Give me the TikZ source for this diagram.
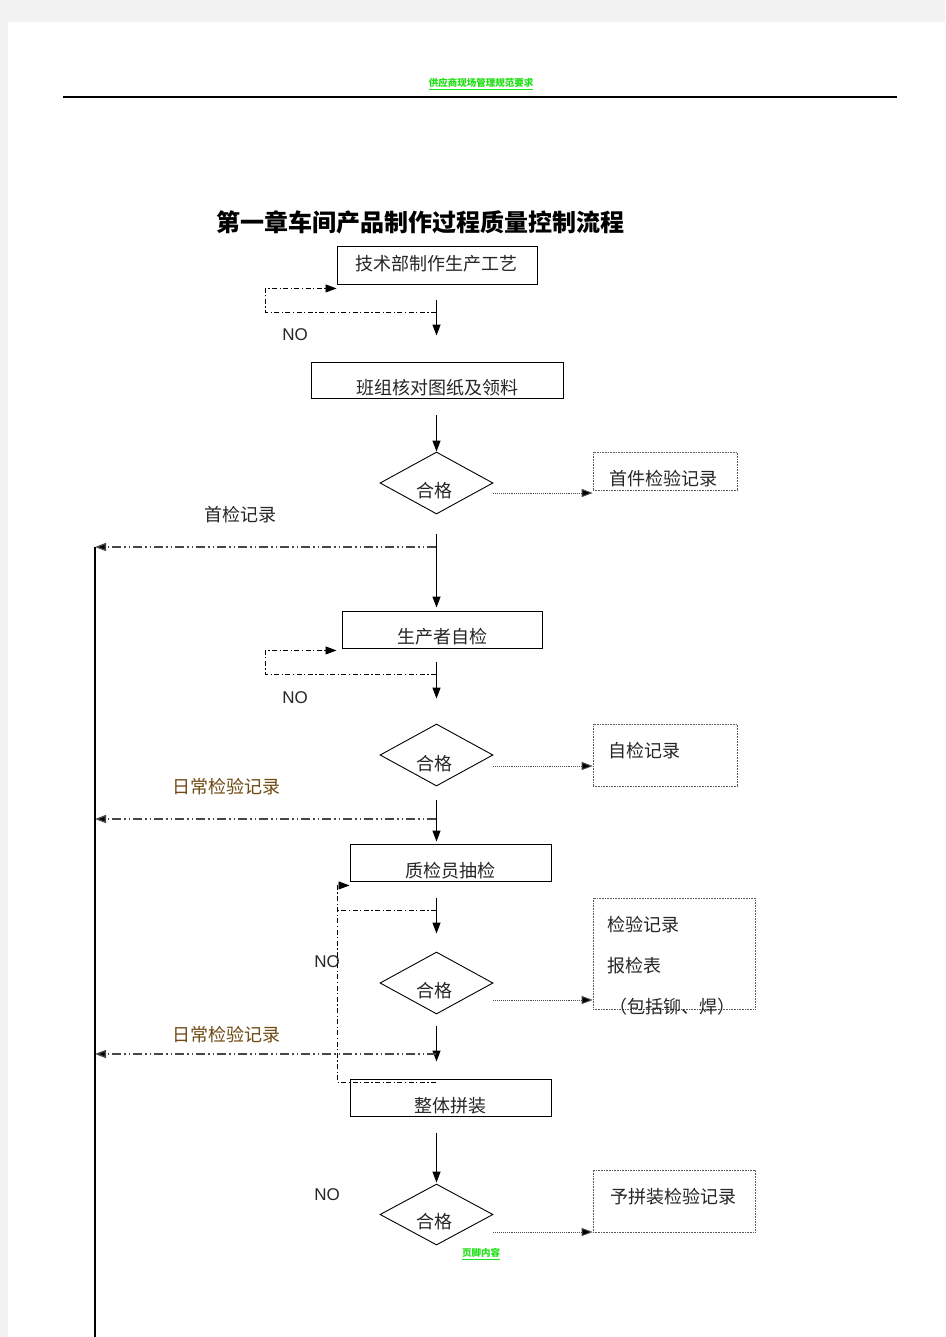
\documentclass[tikz,border=0pt]{standalone}
\usepackage{fontspec}
\newfontfamily\cjk{Noto Sans CJK SC}
\newfontfamily\lat{Liberation Sans}
\usetikzlibrary{shapes.geometric,arrows.meta}
\definecolor{pagegray}{HTML}{F2F2F2}
\definecolor{hgreen}{RGB}{30,225,20}
\definecolor{txt}{HTML}{262626}
\definecolor{brownlbl}{HTML}{6E4A12}
\tikzset{
  boxs/.style={draw, line width=0.9pt, inner sep=0pt},
  dbox/.style={draw, densely dotted, line width=0.6pt, gray!70!black, inner sep=0pt},
  dia/.style={diamond, draw, line width=0.9pt, inner sep=0pt, aspect=1.82, minimum width=113pt, minimum height=62pt},
  tx/.style={font=\cjk\fontsize{18}{18}\selectfont, text=txt, inner sep=0pt},
  nolbl/.style={font=\lat\fontsize{17}{17}\selectfont, text=txt, inner sep=0pt},
  tip/.style={-{Triangle[length=11pt,width=8pt,fill=black]}},
  arr/.style={line width=1.2pt, tip},
  darr/.style={densely dotted, line width=0.9pt, gray!60!black, tip},
  loopln/.style={line width=0.8pt, dash pattern=on 5pt off 2.5pt on 1.2pt off 2.5pt},
  sideln/.style={line width=1.3pt, black!72, dash pattern=on 9pt off 3pt on 1.5pt off 3pt on 1.5pt off 3pt},
  greentxt/.style={font=\cjk\bfseries\fontsize{9.5}{9.5}\selectfont, text=hgreen, inner sep=0pt},
}
\begin{document}
\begin{tikzpicture}[x=1pt,y=-1pt]
\useasboundingbox (0,0) rectangle (945,1337);
\fill[pagegray] (0,0) rectangle (945,1337);
\fill[white] (8,22) rectangle (945,1337);

% header and footer
\node[greentxt] (hdr) at (481,83) {供应商现场管理规范要求};
\draw[hgreen, line width=1pt] ([yshift=-1.5pt]hdr.south west) -- ([yshift=-1.5pt]hdr.south east);
\coordinate (hl) at (63,97);
\coordinate (hr) at (897,97);
\draw[line width=1.1pt] (hl) -- (hr);
\node[greentxt] (ftr) at (481,1253) {页脚内容};
\draw[hgreen, line width=1pt] ([yshift=-1.5pt]ftr.south west) -- ([yshift=-1.5pt]ftr.south east);

% title
\node[font=\cjk\bfseries\fontsize{24}{24}\selectfont, inner sep=0pt] (title) at (420,222) {第一章车间产品制作过程质量控制流程};

% boxes
\node[boxs, minimum width=200pt, minimum height=38pt] (b1) at (437,265) {};
\node[tx] (t1) at (436,264) {技术部制作生产工艺};
\node[boxs, minimum width=252pt, minimum height=36pt] (b2) at (437,380) {};
\node[tx] (t2) at (437,388) {班组核对图纸及领料};
\node[dia] (d1) at (436.5,483) {};
\node[tx] (q1) at (434,491) {合格};
\node[dbox, minimum width=144pt, minimum height=38pt] (r1) at (665,471) {};
\node[tx] (rt1) at (663,479) {首件检验记录};

\node[boxs, minimum width=200pt, minimum height=37pt] (b3) at (442,629.5) {};
\node[tx] (t3) at (442,637) {生产者自检};
\node[dia] (d2) at (436.5,755) {};
\node[tx] (q2) at (434,764) {合格};
\node[dbox, minimum width=144pt, minimum height=62pt] (r2) at (665,755) {};
\node[tx] (rt2) at (644,751) {自检记录};

\node[boxs, minimum width=201pt, minimum height=37pt] (b4) at (450.5,862.5) {};
\node[tx] (t4) at (450,871) {质检员抽检};
\node[dia] (d3) at (436.5,983) {};
\node[tx] (q3) at (434,991) {合格};
\node[dbox, minimum width=162pt, minimum height=111pt] (r3) at (674,953.5) {};
\node[tx, anchor=west] (rt3a) at (607,925) {检验记录};
\node[tx, anchor=west] (rt3b) at (607,966) {报检表};
\node[tx, anchor=west] (rt3c) at (609,1007) {（包括铆、焊）};

\node[boxs, minimum width=201pt, minimum height=37pt] (b5) at (450.5,1097.5) {};
\node[tx] (t5) at (450,1106) {整体拼装};
\node[dia, minimum height=61pt] (d4) at (436.5,1214.5) {};
\node[tx] (q4) at (434,1222) {合格};
\node[dbox, minimum width=162pt, minimum height=62pt] (r4) at (674,1201) {};
\node[tx] (rt4) at (673,1197) {予拼装检验记录};

% labels
\node[nolbl] (no1) at (295,335) {NO};
\node[nolbl] (no2) at (295,698) {NO};
\node[nolbl] (no3) at (327,962) {NO};
\node[nolbl] (no4) at (327,1195) {NO};
\node[tx] (lb1) at (240,515) {首检记录};
\node[tx, text=brownlbl] (lb2) at (226,787) {日常检验记录};
\node[tx, text=brownlbl] (lb3) at (226,1035) {日常检验记录};

% main arrows
\draw[arr, shorten <=16pt, shorten >=26pt] (b1.south -| d1.north) -- (b2.north -| d1.north);
\draw[arr, shorten <=17pt] (b2.south -| d1.north) -- (d1.north);
\draw[arr, shorten <=20pt, shorten >=3pt] (d1.south) -- (d1.south |- b3.north);
\draw[arr, shorten <=14pt, shorten >=25pt] (d2.north |- b3.south) -- (d2.north);
\draw[arr, shorten <=14pt, shorten >=2pt] (d2.south) -- (d2.south |- b4.north);
\draw[arr, shorten <=17pt, shorten >=18pt] (d3.north |- b4.south) -- (d3.north);
\draw[arr, shorten <=12pt, shorten >=17pt] (d3.south) -- (d3.south |- b5.north);
\draw[arr, shorten <=17pt, shorten >=1pt] (d4.north |- b5.south) -- (d4.north);

% dotted arrows to records
\draw[darr] ([yshift=-10pt]d1.east) -- ([yshift=-10pt]d1.east -| r1.west);
\draw[darr] ([yshift=-11pt]d2.east) -- ([yshift=-11pt]d2.east -| r2.west);
\draw[darr] ([yshift=-17pt]d3.east) -- ([yshift=-17pt]d3.east -| r3.west);
\draw[darr] ([yshift=-17.5pt]d4.east) -- ([yshift=-17.5pt]d4.east -| r4.west);

% NO loops
\coordinate (l1a) at (436,312);
\coordinate (l1b) at (265,312);
\draw[loopln, tip] (l1a) -- (l1b) |- ([yshift=-4pt]b1.south west);
\coordinate (l2a) at (436,674);
\coordinate (l2b) at (265,674);
\draw[loopln, tip, shorten >=5pt] (l2a) -- (l2b) |- ([yshift=-2pt]b3.south west);
\coordinate (l3a) at (436,1082);
\coordinate (l3b) at (337,1082);
\draw[loopln, tip] (l3a) -- (l3b) |- ([yshift=-4pt]b4.south west);
\coordinate (l3c) at (436,910);
\coordinate (l3d) at (337,910);
\draw[loopln] (l3c) -- (l3d);

% side record lines
\coordinate (j1) at (436,547);
\coordinate (s1) at (95,547);
\coordinate (j2) at (436,819);
\coordinate (s2) at (95,819);
\coordinate (j3) at (436,1054);
\coordinate (s3) at (95,1054);
\coordinate (sb) at (95,1337);
\draw[sideln, tip] (j1) -- (s1);
\draw[sideln, tip] (j2) -- (s2);
\draw[sideln, tip] (j3) -- (s3);
\draw[line width=2pt] (s1) -- (sb);
\end{tikzpicture}
\end{document}
